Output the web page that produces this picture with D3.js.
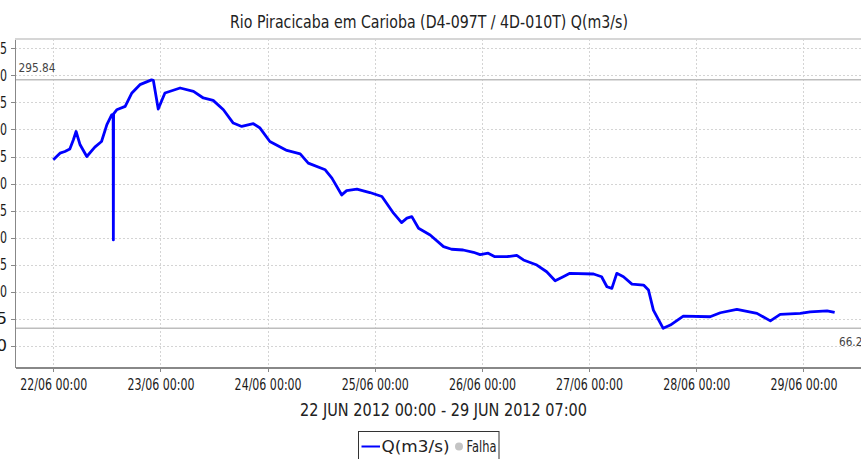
<!DOCTYPE html>
<html>
<head>
<meta charset="utf-8">
<script src="https://cdn.jsdelivr.net/npm/d3@7"></script>
<style>
  body { margin: 0; background: #fff; }
  svg { display: block; font-family: "DejaVu Sans", sans-serif; }
  .grid line { stroke: #d4d4d4; stroke-dasharray: 2,2; shape-rendering: crispEdges; }
  .axis path, .axis line { stroke: #888; shape-rendering: crispEdges; }
  .axis text { fill: #1a1a1a; }
</style>
</head>
<body>
<div id="chart"></div>
<script>
// series: hours since 22/06/2012 00:00 and flow Q(m3/s)
var startTime = new Date(2012, 5, 22, 0, 0);
var hours = [0, 1.5, 2.6, 3.7, 4.5, 5.1, 6.0, 7.5, 9.3, 10.8, 12.0, 13.1, 13.4, 13.45, 13.5,
  14.2, 16.1, 17.6, 19.4, 22.0, 22.4, 23.5, 25.0, 28.4, 31.4, 33.6, 35.8, 38.1, 40.3, 42.2,
  44.8, 46.3, 48.5, 52.3, 55.3, 57.1, 60.9, 62.4, 64.6, 65.7, 68.0, 70.9, 73.6, 76.2, 78.0,
  79.2, 80.3, 81.8, 84.4, 87.4, 89.2, 91.8, 94.1, 95.6, 97.4, 98.9, 101.6, 103.8, 105.3,
  108.3, 110.5, 112.4, 114.2, 115.7, 121.0, 122.8, 124.0, 125.1, 126.2, 127.7, 129.6, 132.2,
  133.3, 134.4, 136.6, 138.2, 141.1, 147.1, 149.4, 153.1, 157.6, 160.6, 162.8, 167.3, 169.5,
  173.3, 175.0];
var flow = [221.9, 228.1, 229.6, 231.9, 240.5, 248.1, 235.8, 225.0, 233.7, 238.9, 254.4, 263.6, 264.0, 147.9, 264.5,
  268.2, 271.3, 283.7, 291.4, 295.84, 295.4, 268.9, 283.7, 288.3, 285.2, 279.1, 276.9, 268.2, 255.9, 252.8,
  255.3, 251.3, 238.9, 230.6, 227.5, 218.9, 212.7, 205.0, 189.5, 193.5, 194.8, 191.7, 188.0, 172.6, 163.9,
  168.0, 169.4, 158.7, 152.5, 141.7, 139.3, 138.6, 136.5, 134.3, 135.6, 132.4, 132.4, 133.7, 129.4,
  124.7, 118.5, 110.2, 113.9, 117.0, 116.4, 113.9, 104.6, 103.1, 117.0, 113.9, 107.1, 106.2,
  101.6, 83.1, 66.2, 69.2, 77.5, 76.9, 80.6, 83.7, 80.0, 73.1, 79.1, 80.0, 81.5,
  82.4, 80.9];
var yTickValues = [50, 75, 100, 125, 150, 175, 200, 225, 250, 275, 300, 325];
var dayTicks = ["2012-06-22", "2012-06-23", "2012-06-24", "2012-06-25", "2012-06-26", "2012-06-27", "2012-06-28", "2012-06-29"];
var titleText = "Rio Piracicaba em Carioba (D4-097T / 4D-010T) Q(m3/s)";
var periodText = "22 JUN 2012 00:00 - 29 JUN 2012 07:00";
var legendNames = ["Q(m3/s)", "Falha"];

(function() {
  var W = 861, H = 459;
  var pLeft = 15, pRight = 861, pTop = 39, pBottom = 367.5;
  var HOUR = 3600e3;

  var data = hours.map(function(h, i) {
    return { t: new Date(startTime.getTime() + h * HOUR), v: flow[i] };
  });
  var parseDay = d3.timeParse("%Y-%m-%d");
  var ticks = dayTicks.map(parseDay);

  var x = d3.scaleTime()
    .domain([new Date(startTime.getTime() - 8.58 * HOUR), new Date(startTime.getTime() + 180.9 * HOUR)])
    .range([pLeft, pRight]);
  var y = d3.scaleLinear()
    .domain([30, 333.6])
    .range([pBottom, pTop]);

  var svg = d3.select('#chart').append('svg')
    .attr('width', W)
    .attr('height', H);

  // title
  svg.append('text')
    .attr('x', 230).attr('y', 28)
    .attr('font-size', 17)
    .attr('textLength', 398).attr('lengthAdjust', 'spacingAndGlyphs')
    .attr('fill', '#222')
    .text(titleText);

  // plot frame top
  svg.append('line')
    .attr('x1', pLeft).attr('x2', pRight).attr('y1', pTop).attr('y2', pTop)
    .attr('stroke', '#c8c8c8').attr('stroke-width', 1.5);

  // grid
  var grid = svg.append('g').attr('class', 'grid');
  grid.selectAll('.hg').data(yTickValues).enter().append('line')
    .attr('x1', pLeft).attr('x2', pRight)
    .attr('y1', function(d) { return Math.round(y(d)) + 0.5; })
    .attr('y2', function(d) { return Math.round(y(d)) + 0.5; });
  grid.selectAll('.vg').data(ticks).enter().append('line')
    .attr('y1', pTop).attr('y2', pBottom)
    .attr('x1', function(d) { return Math.round(x(d)) + 0.5; })
    .attr('x2', function(d) { return Math.round(x(d)) + 0.5; });

  // max / min markers
  var vmax = d3.max(flow), vmin = d3.min(flow);
  [vmax, vmin].forEach(function(v) {
    svg.append('line')
      .attr('x1', pLeft).attr('x2', pRight)
      .attr('y1', y(v)).attr('y2', y(v))
      .attr('stroke', '#bdbdbd').attr('stroke-width', 1.5);
  });
  svg.append('text')
    .attr('x', 18.5).attr('y', y(vmax) - 8)
    .attr('font-size', 13).attr('fill', '#444')
    .attr('textLength', 37).attr('lengthAdjust', 'spacingAndGlyphs')
    .text(d3.format('.2f')(vmax));
  svg.append('text')
    .attr('x', 839).attr('y', y(vmin) + 18)
    .attr('font-size', 13).attr('fill', '#444')
    .attr('textLength', 30).attr('lengthAdjust', 'spacingAndGlyphs')
    .text(d3.format('.2f')(vmin));

  // axes
  var yAxis = svg.append('g').attr('class', 'axis')
    .attr('transform', 'translate(' + pLeft + ',0)')
    .call(d3.axisLeft(y).tickValues(yTickValues).tickSize(4).tickPadding(4).tickSizeOuter(0));
  yAxis.selectAll('text')
    .attr('font-size', 16).attr('font-family', 'DejaVu Sans')
    .attr('textLength', 21).attr('lengthAdjust', 'spacingAndGlyphs');

  var xAxis = svg.append('g').attr('class', 'axis')
    .attr('transform', 'translate(0,' + pBottom + ')')
    .call(d3.axisBottom(x).tickValues(ticks).tickSize(4).tickPadding(7).tickSizeOuter(0)
      .tickFormat(d3.timeFormat('%d/%m %H:%M')));
  xAxis.selectAll('text')
    .attr('font-size', 16).attr('font-family', 'DejaVu Sans')
    .attr('textLength', 67).attr('lengthAdjust', 'spacingAndGlyphs');
  xAxis.select('.domain').attr('stroke-width', 1.5);
  yAxis.select('.domain').attr('stroke-width', 1.5);

  // series
  var line = d3.line()
    .x(function(d) { return x(d.t); })
    .y(function(d) { return y(d.v); });
  svg.append('path')
    .datum(data)
    .attr('fill', 'none')
    .attr('stroke', '#0000ff')
    .attr('stroke-width', 2.8)
    .attr('stroke-linejoin', 'round')
    .attr('d', line);

  // period label
  svg.append('text')
    .attr('x', 300).attr('y', 416)
    .attr('font-size', 17).attr('fill', '#222')
    .attr('textLength', 287).attr('lengthAdjust', 'spacingAndGlyphs')
    .text(periodText);

  // legend
  var lg = svg.append('g');
  lg.append('rect')
    .attr('x', 358.5).attr('y', 431.5).attr('width', 140.5).attr('height', 40)
    .attr('fill', '#fff').attr('stroke', '#333');
  lg.append('line')
    .attr('x1', 361.5).attr('x2', 380).attr('y1', 446.5).attr('y2', 446.5)
    .attr('stroke', '#0000ff').attr('stroke-width', 2);
  lg.append('text')
    .attr('x', 381.5).attr('y', 451.5)
    .attr('font-size', 15).attr('fill', '#222')
    .attr('textLength', 68).attr('lengthAdjust', 'spacingAndGlyphs')
    .text(legendNames[0]);
  lg.append('circle')
    .attr('cx', 459).attr('cy', 446.5).attr('r', 4)
    .attr('fill', '#c4c4c4');
  lg.append('text')
    .attr('x', 466.5).attr('y', 451.5)
    .attr('font-size', 15).attr('fill', '#222')
    .attr('textLength', 30).attr('lengthAdjust', 'spacingAndGlyphs')
    .text(legendNames[1]);
})();
</script>
</body>
</html>
